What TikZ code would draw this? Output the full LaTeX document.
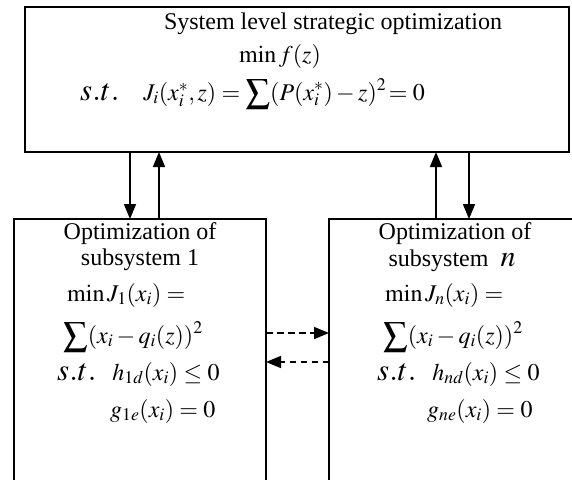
\documentclass[tikz,border=0pt]{standalone}
\usepackage{amsmath}
\usepackage{mathptmx}
\usepackage[no-math]{fontspec}
\setmainfont{Liberation Serif}
\usetikzlibrary{arrows.meta, positioning}

% the large italic "s.t."
\newcommand{\subjto}{{\fontsize{31}{34}\selectfont$s.t.$}}

\begin{document}
\begin{tikzpicture}[x=1pt, y=-1pt,
    box/.style={draw, line width=2pt, outer sep=0pt, inner sep=0pt, anchor=north west},
    txt/.style={inner sep=0pt, anchor=base, font=\fontsize{24}{28}\selectfont},
    eq/.style={txt, anchor=base west},
    link/.style={-{Triangle[length=15pt, width=12pt]}, line width=1.6pt},
    swap/.style={link, dash pattern=on 6.5pt off 4.5pt}]
    \useasboundingbox (0,0) rectangle (572,479);
    \clip (0,0) rectangle (572,479);

    % Boxes
    \node[box, line width=2.6pt, minimum width=544pt, minimum height=145pt] (sysopt) at (25,7) {};
    \node[box, minimum width=252pt, minimum height=300pt] (subone) at (14,219) {};
    \node[box, minimum width=252pt, minimum height=300pt] (subn) at (329,219) {};

    % System level
    \node[txt] (systitle) at (333,29) {System level strategic optimization};
    \node[txt] (sysmin) at (280,62) {$\min f(z)$};
    \node[eq] (sysst) at (80,100) {\subjto\quad$J_i(x_i^*,z)=\displaystyle\sum(P(x_i^*)-z)^2\!=0$};

    % Subsystem 1
    \node[txt] (onetitle) at (140,239) {Optimization of};
    \node[txt] (onesub) at (140,265) {subsystem 1};
    \node[eq] (onemin) at (67,301) {$\min J_1(x_i)=$};
    \node[eq] (onesum) at (63,343) {$\displaystyle\sum(x_i-q_i(z))^2$};
    \node[eq] (onest) at (57,380) {\subjto\hspace{16pt}$h_{1d}(x_i)\le 0$};
    \node[eq] (onecon) at (110,417) {$g_{1e}(x_i)=0$};

    % Subsystem n
    \node[txt] (ntitle) at (455,239) {Optimization of};
    \node[txt] (nsub) at (452,266) {subsystem\ \ {\fontsize{30}{34}\selectfont$n$}};
    \node[eq] (nmin) at (385,301) {$\min J_n(x_i)=$};
    \node[eq] (nsum) at (383,343) {$\displaystyle\sum(x_i-q_i(z))^2$};
    \node[eq] (nst) at (377,380) {\subjto\hspace{16pt}$h_{nd}(x_i)\le 0$};
    \node[eq] (ncon) at (427,417) {$g_{ne}(x_i)=0$};

    % Links to and from the system level
    \draw[link] (sysopt.south -| 130,0) -- (subone.north -| 130,0);
    \draw[link] (subone.north -| 159,0) -- (sysopt.south -| 159,0);
    \draw[link] (subn.north -| 436,0) -- (sysopt.south -| 436,0);
    \draw[link] (sysopt.south -| 469,0) -- (subn.north -| 469,0);

    % Exchange between subsystems
    \draw[swap] (subone.east |- 0,333) -- (subn.west |- 0,333);
    \draw[swap] (subn.west |- 0,362) -- (subone.east |- 0,362);

\end{tikzpicture}
\end{document}
